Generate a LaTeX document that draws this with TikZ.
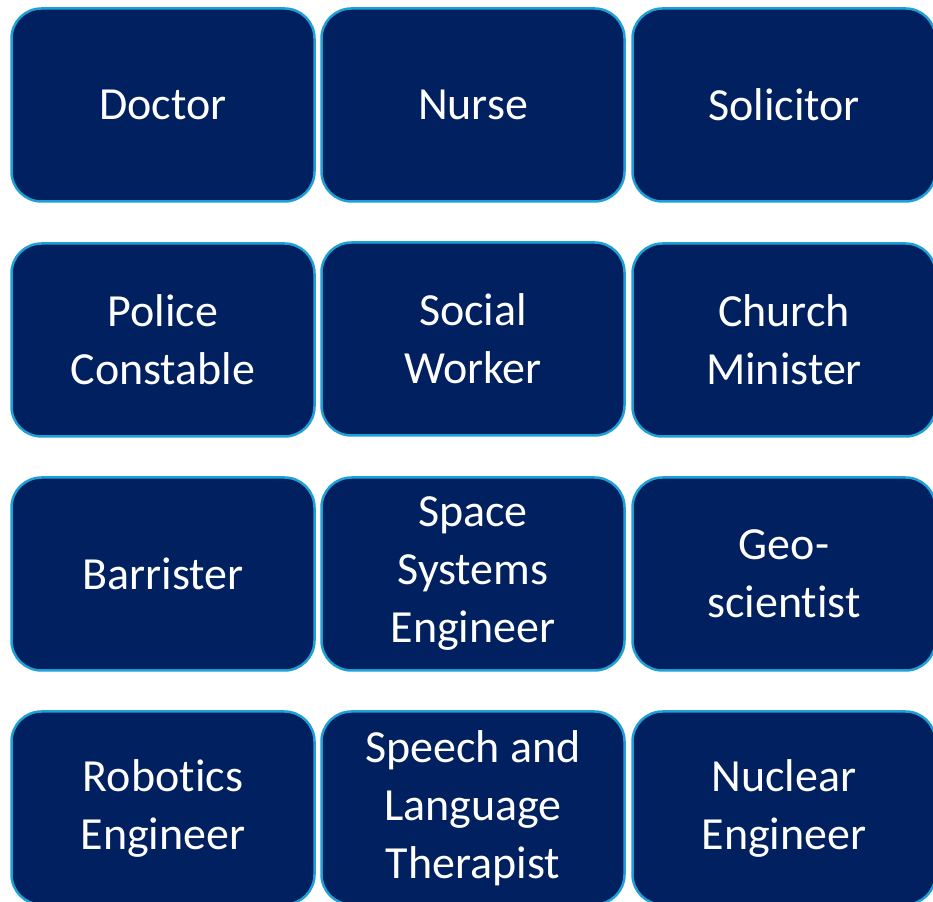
\documentclass[tikz,border=0pt]{standalone}
\usepackage{fontspec}
\setmainfont{Carlito}[Ligatures=NoCommon]
\usepackage{tikz}

\definecolor{navy}{RGB}{1,32,96}
\definecolor{edgeblue}{RGB}{30,160,215}

\tikzset{
	job/.style={draw=edgeblue, line width=2.5pt, fill=navy, rounded corners=30pt,
		minimum width=303pt, minimum height=193pt, inner sep=0pt,
		text=white, align=center, font=\fontsize{46}{58}\selectfont}
}

\begin{document}
\begin{tikzpicture}[x=1pt,y=1pt]
	%Frame
	\useasboundingbox (0,0) rectangle (933,901);
	
	%Row 1
	\node[job] (doctor) at (163,796) {Doctor};
	\node[job] (nurse) at (473,796) {Nurse};
	\node[job] (solicitor) at (784,796) {Solicitor};
	
	%Row 2
	\node[job] (police) at (163,561) {Police\\Constable};
	\node[job] (social) at (473,562) {Social\\Worker};
	\node[job] (church) at (784,561) {Church\\Minister};
	
	%Row 3
	\node[job] (barrister) at (163,327) {Barrister};
	\node[job] (space) at (473,327) {Space\\Systems\\Engineer};
	\node[job] (geo) at (784,327) {Geo-\\scientist};
	
	%Row 4
	\node[job] (robotics) at (163,93) {Robotics\\Engineer};
	\node[job] (speech) at (473,93) {Speech and\\Language\\Therapist};
	\node[job] (nuclear) at (784,93) {Nuclear\\Engineer};
\end{tikzpicture}
\end{document}
